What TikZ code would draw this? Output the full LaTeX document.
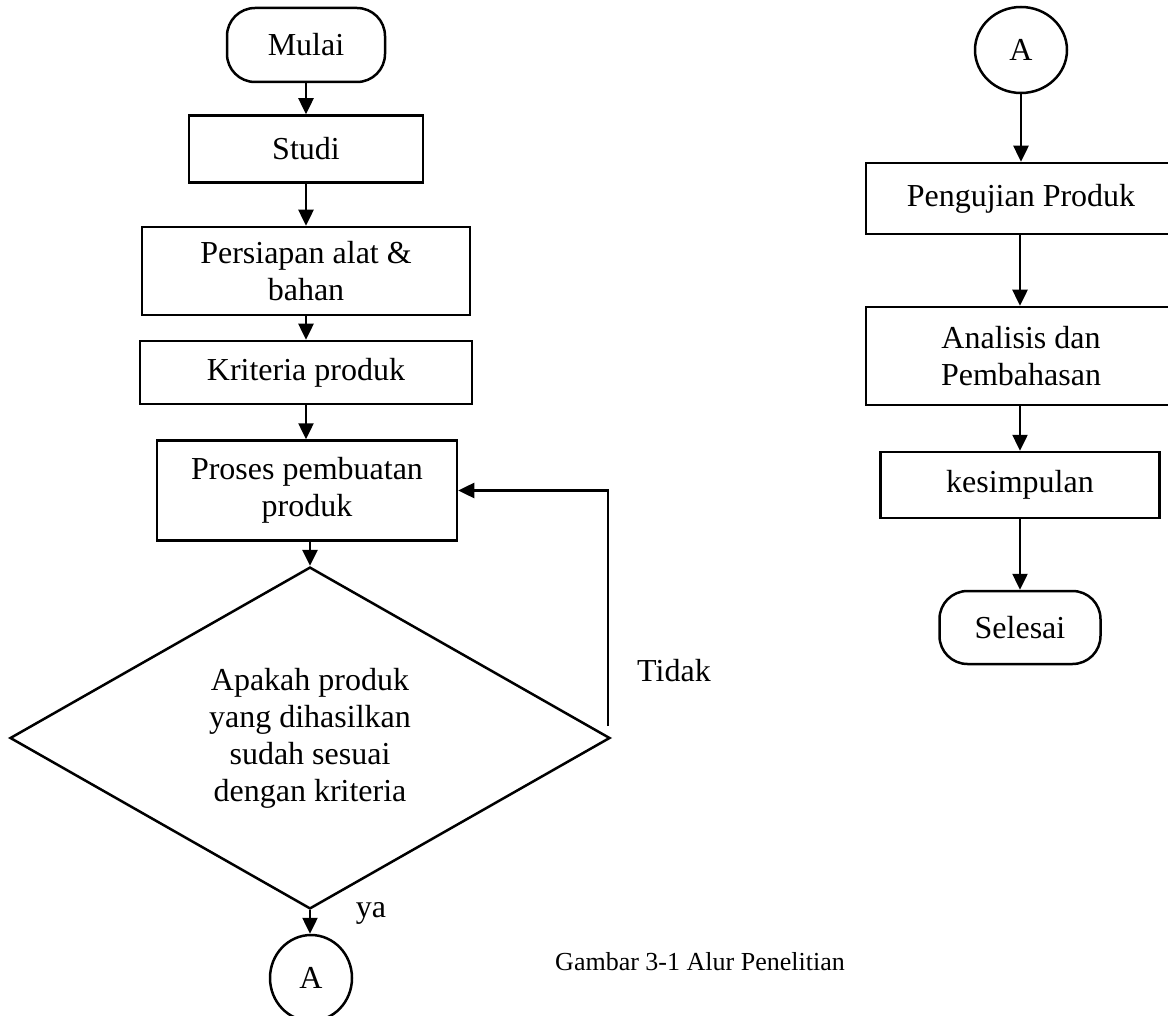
\documentclass[tikz,border=0pt]{standalone}
\usepackage{fontspec}
\setmainfont{Liberation Serif}
\usetikzlibrary{arrows.meta,shapes.geometric}
\begin{document}
\begin{tikzpicture}[x=1pt,y=-1pt,
  every node/.style={font=\fontsize{32}{37}\selectfont, inner sep=0pt, align=center},
  box/.style={draw, line width=2.5pt, rectangle},
  term/.style={draw, line width=2.5pt, rectangle, rounded corners=28pt},
  conn/.style={draw, line width=2.5pt, ellipse},
  dec/.style={draw, line width=2.5pt, diamond},
  arr/.style={line width=2.5pt, -{Triangle[length=16pt,width=15pt]}}]
\useasboundingbox (0,0) rectangle (1168,1016);
% left column
\node[term, minimum width=158pt, minimum height=74pt] (mulai) at (306,45) {Mulai};
\node[box, minimum width=234pt, minimum height=67pt] (studi) at (306,149) {Studi};
\node[box, minimum width=328pt, minimum height=88pt] (persiapan) at (306,271) {Persiapan alat \&\\bahan};
\node[box, minimum width=332pt, minimum height=63pt] (kriteria) at (306,372.5) {Kriteria produk};
\node[box, minimum width=300pt, minimum height=100pt] (proses) at (307,490.5) {Proses pembuatan\\produk};
\node[dec, minimum width=600pt, minimum height=332pt] (cek) at (310,738) {Apakah produk\\yang dihasilkan\\sudah sesuai\\dengan kriteria};
\node[conn, minimum width=82pt, minimum height=86pt] (a1) at (311,978) {A};
\node (tidak) at (674,671) {Tidak};
\node (ya) at (371,913) {ya};
\coordinate (fb) at (608,726);
% right column
\node[conn, minimum width=92pt, minimum height=86pt] (a2) at (1021,50) {A};
\node[box, minimum width=310pt, minimum height=71pt] (uji) at (1021,198.5) {Pengujian Produk};
\node[box, minimum width=310pt, minimum height=98pt] (analisis) at (1021,356) {Analisis dan\\Pembahasan};
\node[box, minimum width=279pt, minimum height=66pt] (simpul) at (1020,485) {kesimpulan};
\node[term, minimum width=161pt, minimum height=73pt] (selesai) at (1020,627.5) {Selesai};
% caption
\node[font=\fontsize{26}{30}\selectfont] (cap) at (700,962) {Gambar 3-1 Alur Penelitian};
% connectors
\draw[arr] (mulai) -- (studi);
\draw[arr] (studi) -- (persiapan);
\draw[arr] (persiapan) -- (kriteria);
\draw[arr] (kriteria.south) -- (kriteria.south |- proses.north);
\draw[arr] (cek.north |- proses.south) -- (cek.north);
\draw[arr] (cek.south) -- (cek.south |- a1.north);
\draw[arr] (fb) |- (proses.east);
\draw[arr] (a2.south) -- (a2.south |- uji.north);
\draw[arr] (uji.south -| simpul.north) -- (simpul.north |- analisis.north);
\draw[arr] (simpul.north |- analisis.south) -- (simpul.north);
\draw[arr] (simpul) -- (selesai);
\end{tikzpicture}
\end{document}
